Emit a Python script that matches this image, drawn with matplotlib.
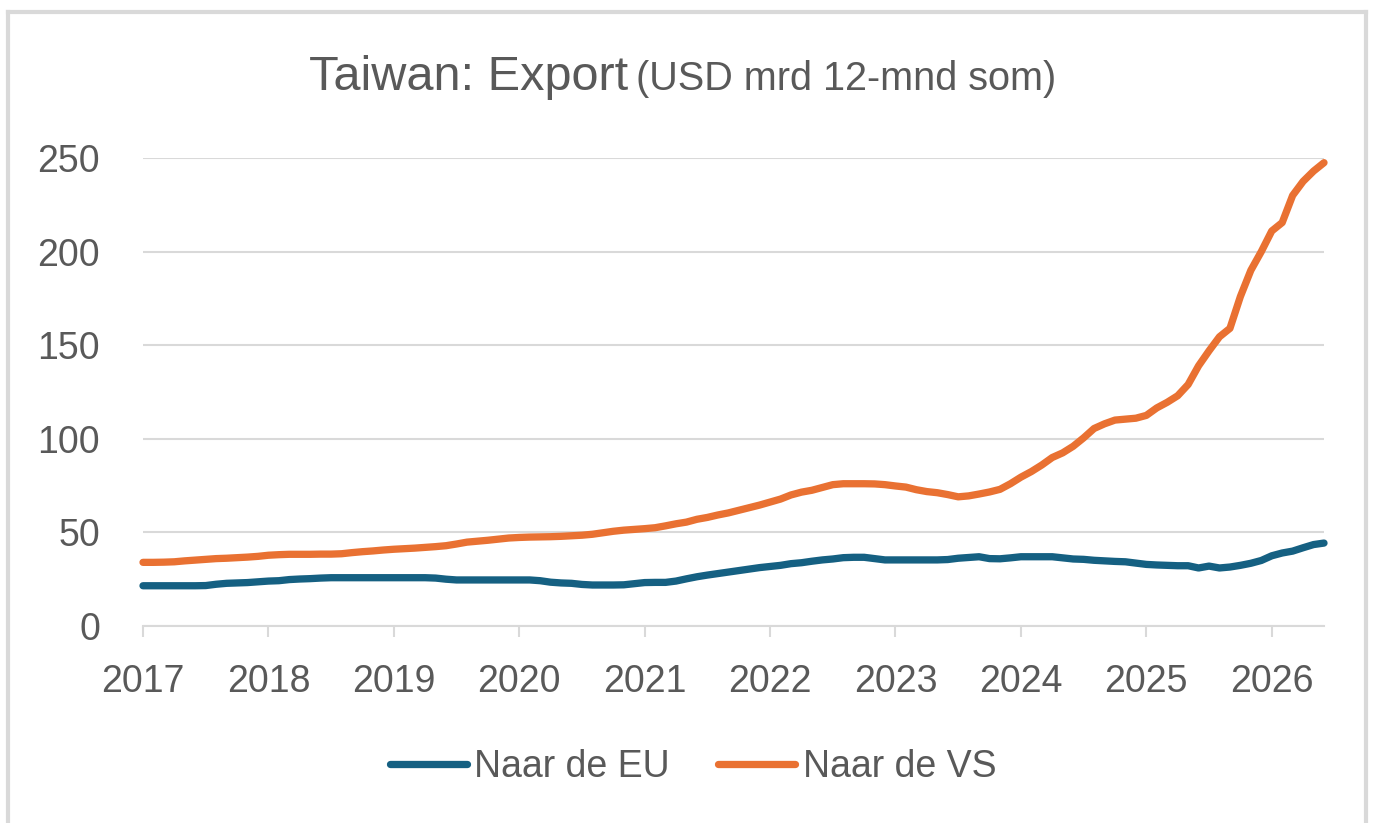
import matplotlib
matplotlib.use('Agg')
import matplotlib.pyplot as plt
from matplotlib.lines import Line2D
import numpy as np

# Monthly 12-month rolling sums, Jan 2017 - Jun 2026 (USD bn)
start_year = 2017
year_ticks = [2017, 2018, 2019, 2020, 2021, 2022, 2023, 2024, 2025, 2026]
y_ticks = [0, 50, 100, 150, 200, 250]

naar_eu = [
    21.5, 21.5, 21.5, 21.5, 21.5, 21.5, 21.6, 22.3, 22.8, 23.0, 23.2, 23.6,   # 2017
    24.0, 24.2, 24.8, 25.1, 25.3, 25.6, 25.8, 25.8, 25.8, 25.8, 25.8, 25.8,   # 2018
    25.8, 25.8, 25.8, 25.8, 25.6, 25.0, 24.6, 24.6, 24.6, 24.6, 24.6, 24.6,   # 2019
    24.6, 24.6, 24.2, 23.4, 23.0, 22.8, 22.2, 21.9, 21.9, 21.9, 22.0, 22.6,   # 2020
    23.2, 23.3, 23.3, 24.0, 25.2, 26.3, 27.2, 28.0, 28.8, 29.6, 30.4, 31.2,   # 2021
    31.8, 32.4, 33.3, 33.8, 34.6, 35.3, 35.8, 36.5, 36.7, 36.7, 36.0, 35.3,   # 2022
    35.3, 35.3, 35.3, 35.3, 35.3, 35.5, 36.2, 36.6, 37.0, 36.0, 35.9, 36.4,   # 2023
    37.0, 37.0, 37.0, 37.0, 36.4, 35.8, 35.6, 35.1, 34.8, 34.5, 34.3, 33.6,   # 2024
    32.9, 32.6, 32.4, 32.2, 32.2, 31.0, 32.0, 31.0, 31.5, 32.4, 33.5, 35.0,   # 2025
    37.5, 39.0, 40.0, 41.8, 43.5, 44.3,                                       # 2026
]

naar_vs = [
    34.0, 34.0, 34.1, 34.3, 34.8, 35.2, 35.6, 36.0, 36.2, 36.5, 36.8, 37.2,   # 2017
    37.8, 38.1, 38.3, 38.3, 38.3, 38.4, 38.4, 38.6, 39.2, 39.7, 40.1, 40.6,   # 2018
    41.0, 41.3, 41.6, 42.0, 42.4, 42.9, 43.8, 44.8, 45.3, 45.8, 46.4, 47.0,   # 2019
    47.3, 47.5, 47.6, 47.7, 47.9, 48.2, 48.5, 49.0, 49.8, 50.6, 51.2, 51.6,   # 2020
    52.0, 52.5, 53.5, 54.6, 55.5, 57.0, 58.0, 59.3, 60.4, 61.8, 63.2, 64.6,   # 2021
    66.2, 67.8, 70.0, 71.5, 72.5, 74.0, 75.5, 76.0, 76.0, 76.0, 75.9, 75.5,   # 2022
    74.8, 74.2, 72.8, 71.8, 71.2, 70.2, 69.0, 69.5, 70.5, 71.6, 73.0, 76.0,   # 2023
    79.5, 82.5, 86.0, 90.0, 92.5, 96.0, 100.5, 105.5, 108.0, 110.0, 110.5, 111.0,  # 2024
    112.5, 116.5, 119.5, 123.0, 129.0, 139.0, 147.0, 154.5, 159.0, 176.0, 190.0, 200.0,  # 2025
    211.0, 215.5, 230.0, 237.5, 243.0, 247.5,                                  # 2026
]

# decimal year per month
dates = start_year + np.arange(len(naar_eu)) / 12.0

BLUE = '#156082'
ORANGE = '#E97132'
TEXT = '#595959'
GRID = '#D9D9D9'

plt.rcParams['font.family'] = ['Liberation Sans', 'DejaVu Sans']

W, H = 1373, 823
fig = plt.figure(figsize=(W / 100, H / 100), dpi=100)

# axes placed in pixel terms
left, right, top, bottom = 143, 1324, 158, 626
ax = fig.add_axes([left / W, 1 - bottom / H, (right - left) / W, (bottom - top) / H])

ax.plot(dates, naar_eu, color=BLUE, lw=5.25, solid_capstyle='round',
        solid_joinstyle='round', label='Naar de EU', clip_on=False, zorder=3)
ax.plot(dates, naar_vs, color=ORANGE, lw=5.25, solid_capstyle='round',
        solid_joinstyle='round', label='Naar de VS', clip_on=False, zorder=3)

ax.set_xlim(dates[0], dates[-1])
ax.set_ylim(0, 250)
ax.set_xticks(year_ticks)
ax.set_xticklabels([str(y) for y in year_ticks])
ax.set_yticks(y_ticks)

# grid + axis styling
ax.grid(axis='y', color=GRID, lw=1.5)
ax.set_axisbelow(True)
for s in ['top', 'right', 'left']:
    ax.spines[s].set_visible(False)
ax.spines['bottom'].set_color(GRID)
ax.spines['bottom'].set_linewidth(1.5)
ax.tick_params(axis='x', colors=GRID, length=8, width=1.5, pad=19,
               labelsize=27, labelcolor=TEXT)
ax.tick_params(axis='y', length=0, pad=31, labelsize=27, labelcolor=TEXT)

# title in two sizes
ty = 1 - 90 / H
fig.text(628 / W, ty, 'Taiwan: Export', ha='right', va='baseline',
         fontsize=35, color=TEXT)
fig.text(636 / W, ty, '(USD mrd 12-mnd som)', ha='left', va='baseline',
         fontsize=28.5, color=TEXT)

fig.legend(loc='center', bbox_to_anchor=(693 / W, 1 - 767 / H), ncol=2,
           frameon=False, fontsize=27, labelcolor=TEXT, handlelength=2.05,
           handletextpad=0.2, columnspacing=1.3, borderpad=0, borderaxespad=0)

# light border around the chart area (no bottom edge)
bx0, bx1, by0 = 8 / W, 1365.5 / W, 1 - 12 / H
for xs, ys in [([bx0, bx0], [0, by0]), ([bx0, bx1], [by0, by0]), ([bx1, bx1], [by0, 0])]:
    fig.add_artist(Line2D(xs, ys, color=GRID, lw=3, transform=fig.transFigure))

fig.savefig('out.png', dpi=100)
